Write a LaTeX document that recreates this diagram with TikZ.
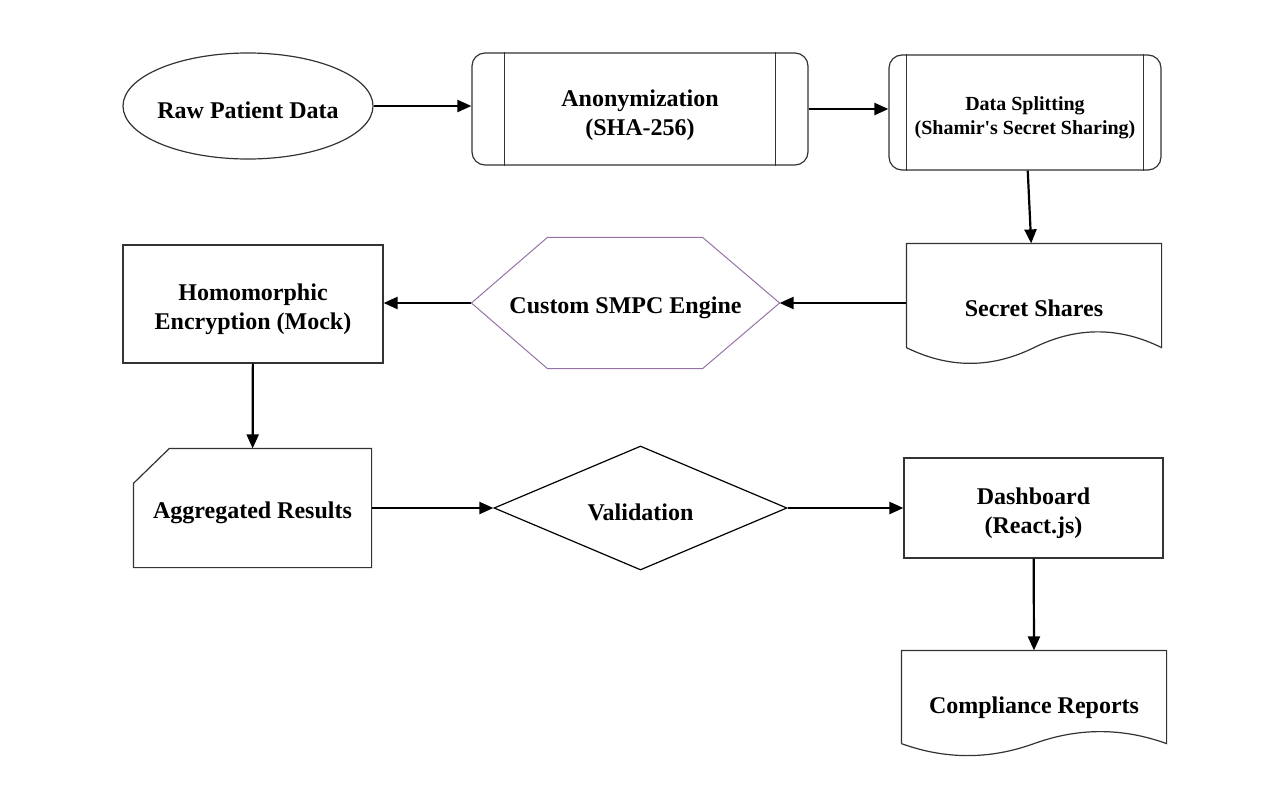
\documentclass[tikz,border=0pt]{standalone}
\usepackage{fontspec}
\setmainfont{Liberation Serif}
\usetikzlibrary{shapes.geometric,arrows.meta,calc}
\colorlet{lcol}{black!80}
\definecolor{colP}{rgb}{.588,.451,.651}
\newcommand{\txtgap}[1][26pt]{\rule{0pt}{#1}}
\tikzstyle{box}=[rectangle, draw=lcol, line width=1.2pt, inner sep=0pt, align=center, font=\fontsize{24}{29}\selectfont\bfseries]
\tikzstyle{rbox}=[box, rounded corners=13pt]
\tikzstyle{plain}=[box, draw=none]
\tikzstyle{oval}=[box, ellipse, inner xsep=-10pt]
\tikzstyle{decide}=[box, diamond, aspect=2.36, draw=black]
\tikzstyle{line}=[line width=1.2pt, lcol]
\tikzstyle{arrow}=[line width=2.2pt, -{Triangle[length=14pt,width=12pt]}]

\begin{document}
\begin{tikzpicture}[x=1pt,y=-1pt]
		\useasboundingbox (0,0) rectangle (1277,795);
		% top row
		\node[oval, minimum width=250, minimum height=106] (raw) at (248, 106) {\txtgap Raw Patient Data};
		\node[rbox, minimum width=336, minimum height=112] (anon) at (640, 109) {\txtgap[28.5pt]Anonymization\\(SHA-256)};
		\node[rbox, minimum width=272, minimum height=115, font=\fontsize{20}{24}\selectfont\bfseries] (split) at (1025, 112.5) {\txtgap[25pt]Data Splitting\\(Shamir\textquotesingle s Secret Sharing)};
		\draw[line] ([xshift=33]anon.north west) -- ([xshift=33]anon.south west) ([xshift=-33]anon.north east) -- ([xshift=-33]anon.south east);
		\draw[line] ([xshift=18]split.north west) -- ([xshift=18]split.south west) ([xshift=-18]split.north east) -- ([xshift=-18]split.south east);
		% middle row
		\node[plain, minimum width=254, minimum height=119] (shares) at (1034, 303.5) {\txtgap Secret Shares};
		\draw[line] ($(shares.south west)+(0,-16)$) -- (shares.north west) -- (shares.north east) -- ($(shares.south east)+(0,-16)$)
			.. controls ($(shares.south east)!1/6!(shares.south west)+(0,-37)$) and ($(shares.south east)!1/3!(shares.south west)+(0,-37)$) .. ($(shares.south)+(0,-16)$)
			.. controls ($(shares.south east)!2/3!(shares.south west)+(0,5)$) and ($(shares.south east)!5/6!(shares.south west)+(0,5)$) .. ($(shares.south west)+(0,-16)$);
		\node[plain, minimum width=307, minimum height=130] (smpc) at (625.5, 303) {\txtgap Custom SMPC Engine};
		\draw[line, colP, line width=1pt] (smpc.west) -- ([xshift=76]smpc.north west) -- ([xshift=-77]smpc.north east) -- (smpc.east) -- ([xshift=-77]smpc.south east) -- ([xshift=76]smpc.south west) -- cycle;
		\node[box, minimum width=260, minimum height=118] (homo) at (253, 304) {\txtgap[28pt]Homomorphic\\Encryption (Mock)};
		% bottom rows
		\node[plain, minimum width=237, minimum height=118] (agg) at (252.5, 508) {\txtgap Aggregated Results};
		\draw[line] ([yshift=-35]agg.north west) -- ([xshift=36]agg.north west) -- (agg.north east) -- (agg.south east) -- (agg.south west) -- cycle;
		\node[decide, line width=1.2pt, minimum width=293, minimum height=124] (valid) at (640.5, 508) {\txtgap Validation};
		\node[box, minimum width=259, minimum height=100] (dash) at (1033.5, 508) {\txtgap[26.5pt]Dashboard\\(React.js)};
		\node[plain, minimum width=264, minimum height=104] (reports) at (1034, 703) {\txtgap Compliance Reports};
		\draw[line] ($(reports.south west)+(0,-12)$) -- (reports.north west) -- (reports.north east) -- ($(reports.south east)+(0,-12)$)
			.. controls ($(reports.south east)!1/6!(reports.south west)+(0,-28)$) and ($(reports.south east)!1/3!(reports.south west)+(0,-28)$) .. ($(reports.south)+(0,-12)$)
			.. controls ($(reports.south east)!2/3!(reports.south west)+(0,4)$) and ($(reports.south east)!5/6!(reports.south west)+(0,4)$) .. ($(reports.south west)+(0,-12)$);
		% connectors
		\draw[arrow] (raw.east) -- (raw.east -| anon.west);
		\draw[arrow] (anon.east) -- (anon.east -| split.west);
		\draw[arrow] (split) -- (shares);
		\draw[arrow] (smpc.east -| shares.west) -- (smpc.east);
		\draw[arrow] (smpc.west) -- (smpc.west -| homo.east);
		\draw[arrow] (homo) -- (agg);
		\draw[arrow] (agg) -- (valid);
		\draw[arrow] (valid) -- (dash);
		\draw[arrow] (dash) -- (reports.north);
	\end{tikzpicture}
\end{document}
